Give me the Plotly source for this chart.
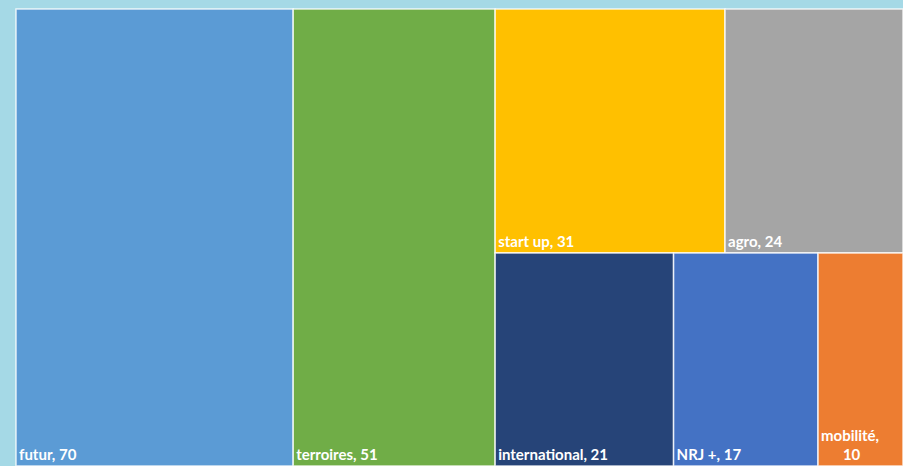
import plotly.graph_objects as go

labels = ["futur", "terroires", "start up", "agro", "international", "NRJ +", "mobilité"]
values = [70, 51, 31, 24, 21, 17, 10]
colors = ["#5b9bd5", "#70ad47", "#ffc000", "#a5a5a5", "#264478", "#4472c4", "#ed7d31"]
nb = "\u00a0"
templates = ["%{label}, %{value}"] * 6 + ["%{label},<br>" + nb * 6 + "%{value}"]

fig = go.Figure(go.Treemap(
    labels=labels,
    parents=[""] * len(labels),
    values=values,
    sort=False,
    texttemplate=templates,
    textposition="bottom left",
    textfont=dict(family="Lato", size=15, color="white", weight="bold"),
    marker=dict(colors=colors, line=dict(color="rgba(255,255,255,0.8)", width=1.5),
                pad=dict(t=0, l=0, r=0, b=0)),
    tiling=dict(packing="binary", pad=0),
    pathbar=dict(visible=False),
    hoverinfo="label+value",
))

fig.update_layout(
    width=903, height=466,
    margin=dict(l=16, t=9, r=0, b=0),
    paper_bgcolor="#a5d9e6",
    uniformtext=dict(minsize=15, mode="show"),
)

fig.write_html("out.html", config={"displayModeBar": False},
               post_script="document.body.style.margin='0';")
